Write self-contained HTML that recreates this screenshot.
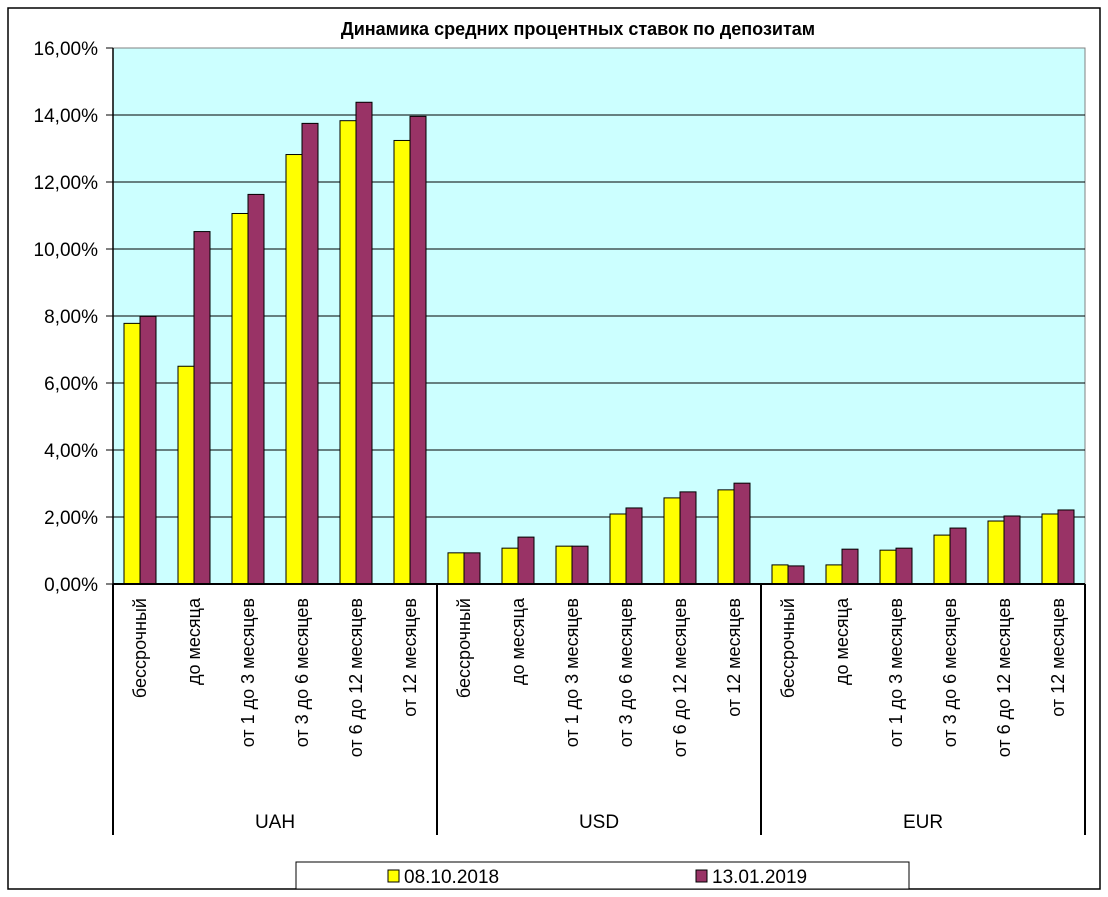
<!DOCTYPE html>
<html><head><meta charset="utf-8"><style>
body{margin:0;background:#fff;}
svg{display:block;font-family:"Liberation Sans",Arial,sans-serif;}
</style></head><body>
<svg width="1108" height="897" viewBox="0 0 1108 897">
<rect x="8" y="8" width="1092" height="881" fill="#fff" stroke="#000" stroke-width="1.5"/>
<text x="578" y="35" text-anchor="middle" font-weight="bold" font-size="18">Динамика средних процентных ставок по депозитам</text>
<rect x="113" y="48" width="972" height="536" fill="#ccffff" stroke="#808080"/>
<g id="grid"></g>
<g id="bars"></g>
<g id="axes"></g>
<g>
<rect x="296" y="862" width="613" height="27" fill="#fff" stroke="#000"/>
<rect x="388" y="870" width="11" height="12" fill="#ffff00" stroke="#000"/>
<text x="404" y="883" font-size="19">08.10.2018</text>
<rect x="696" y="870" width="11" height="12" fill="#993366" stroke="#000"/>
<text x="712" y="883" font-size="19">13.01.2019</text>
</g>
</svg>
<script>
const categories=["бессрочный","до месяца","от 1 до 3 месяцев","от 3 до 6 месяцев","от 6 до 12 месяцев","от 12 месяцев"];
const groups=["UAH","USD","EUR"];
const series2018=[7.78,6.50,11.06,12.82,13.83,13.24, 0.93,1.07,1.13,2.09,2.57,2.81, 0.57,0.57,1.01,1.46,1.88,2.09];
const series2019=[7.99,10.52,11.63,13.75,14.38,13.96, 0.93,1.40,1.13,2.27,2.75,3.01, 0.54,1.04,1.07,1.67,2.03,2.21];
const yTicks=[0,2,4,6,8,10,12,14,16];
const yTickLabels=["0,00%","2,00%","4,00%","6,00%","8,00%","10,00%","12,00%","14,00%","16,00%"];
const NS="http://www.w3.org/2000/svg";
const X0=113,X1=1085,Y0=584,Y1=48,YMAX=16;
const n=series2018.length, cw=(X1-X0)/n;
function y(v){return Y0-(v/YMAX)*(Y0-Y1);}
function xc(i){return X0+cw*(i+0.5);}
function mk(t,a,p){const e=document.createElementNS(NS,t);for(const k in a)e.setAttribute(k,a[k]);p.appendChild(e);return e;}
const grid=document.getElementById('grid'),bars=document.getElementById('bars'),axes=document.getElementById('axes');
yTicks.forEach((v,i)=>{
 if(v>0&&v<YMAX){const l=mk('line',{x1:X0,x2:X1,y1:y(v),y2:y(v),stroke:'#000','stroke-width':1},grid);
 
 }
 const t=mk('line',{x1:X0-7,x2:X0,y1:y(v),y2:y(v),stroke:'#000'},axes);
 
 
 const tx=mk('text',{x:98,y:y(v)+7,'text-anchor':'end','font-size':19},axes);
 tx.textContent=yTickLabels[i];
 
 
});
const bw=16;
for(let i=0;i<n;i++){
 const c=xc(i);
 const b1=mk('rect',{x:c-bw,y:y(series2018[i]),width:bw,height:Y0-y(series2018[i]),fill:'#ffff00',stroke:'#000','stroke-width':1},bars);
 
 
 const b2=mk('rect',{x:c,y:y(series2019[i]),width:bw,height:Y0-y(series2019[i]),fill:'#993366',stroke:'#000','stroke-width':1},bars);
 
 
 const lt=mk('text',{x:0,y:0,'text-anchor':'end','font-size':18,transform:`translate(${c+6},598) rotate(-90)`},axes);
 lt.textContent=categories[i%categories.length];
 
 
}
mk('line',{x1:X0,x2:X0,y1:Y1,y2:Y0,stroke:'#000','stroke-width':1.5},axes);
mk('line',{x1:X0,x2:X1,y1:Y0,y2:Y0,stroke:'#000','stroke-width':2},axes);
const gw=(X1-X0)/groups.length;
for(let g=0;g<=groups.length;g++){
 const s=mk('line',{x1:X0+gw*g,x2:X0+gw*g,y1:Y0,y2:835,stroke:'#000','stroke-width':2},axes);
 
 
}
groups.forEach((gname,g)=>{
 const t=mk('text',{x:X0+gw*(g+0.5),y:828,'text-anchor':'middle','font-size':19},axes);
 t.textContent=gname;
 
 
});
</script>
</body></html>
